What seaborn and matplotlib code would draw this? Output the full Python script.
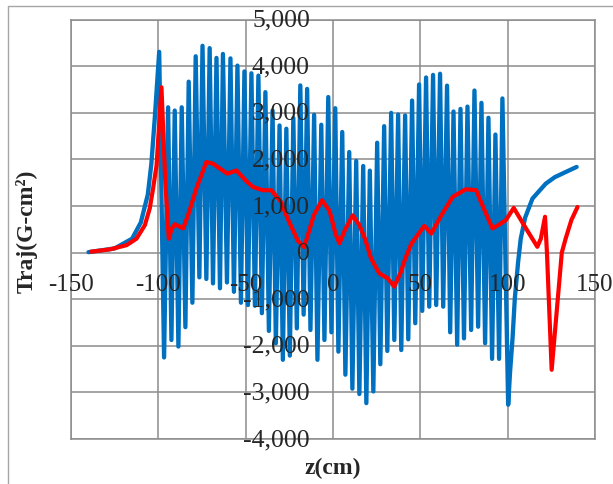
import matplotlib
matplotlib.use("Agg")
import matplotlib.pyplot as plt
import matplotlib.transforms as mtransforms
from matplotlib.patches import Rectangle
import seaborn as sns
import pandas as pd

# blue trace: rise, alternating peaks / troughs, then the tail after z=100
blue_z = [-140, -125, -115, -110, -106, -104, -102,
          -99.5, -96.7, -94.4, -92.5, -90.6, -88.5, -86.6, -84.5, -82.6, -80.5,
          -78.6, -76.5, -74.7, -72.5, -70.6, -68.7, -66.7, -64.7, -63, -60.7,
          -58.7, -56.7, -54.7, -52.7, -50.7, -48.7, -46.7, -44.7, -42.7, -40.7,
          -38.7, -36.7, -34.6, -32.7, -30.6, -28.7, -26.7, -24.7, -22.7, -20.7,
          -18.7, -16.8, -14.8, -12.9, -10.8, -8.9, -6.7, -4.9, -2.7, -0.9,
          1.3, 3.1, 5.3, 7.1, 9.3, 11.1, 13.3, 15.1, 17.3, 19.1,
          21.1, 23.1, 25.3, 27.1, 29.3, 31.1, 33.3, 35.1, 37.3, 39.1,
          41.3, 43.1, 45.3, 47.1, 49.3, 51.1, 53.3, 55.1, 57.3, 59.1,
          61.3, 63.1, 65.3, 67.1, 69, 71.1, 73, 75, 77, 79.1,
          81, 83.1, 85, 87.1, 89, 91.1, 93, 95.1, 97, 100.3,
          101.4, 102.8, 104.1, 106, 107.5, 110, 114.2, 121.8, 127, 133.2, 139.5]
blue_v = [10, 90, 300, 650, 1250, 1900, 2900,
          4310, -2250, 3120, -1875, 3050, -2015, 3120, -1600, 3670, -1075,
          4215, -530, 4440, -565, 4390, -660, 4180, -765, 4265, -640,
          4170, -840, 4015, -1075, 3890, -1125, 3850, -1140, 3800, -1300,
          3445, -1680, 3050, -1945, 2730, -2300, 2660, -2210, 2890, -1625,
          3590, -1330, 3515, -1660, 2960, -2300, 2745, -1875, 3340, -1710,
          3100, -2125, 2590, -2620, 2160, -2920, 1970, -3035, 1860, -3230,
          1760, -2980, 2360, -2395, 2715, -2110, 3000, -1875, 2965, -2090,
          2945, -1860, 3265, -1515, 3610, -1250, 3760, -1160, 3815, -1125,
          3840, -1160, 3585, -1710, 3030, -1975, 3085, -1840, 3135, -1660,
          3480, -1590, 3215, -1945, 2895, -2280, 2535, -2280, 3310, -3265,
          -2550, -1840, -985, -200, 300, 750, 1160, 1480, 1620, 1730, 1840]

# red trace
red_z = [-138.6, -127.7, -118.2, -112.5, -107.7, -104.9, -103, -101, -98.2,
         -96, -94, -92.5, -90.6, -85.8, -83, -78, -72.5, -68.7, -60.5, -55.3,
         -50, -45.8, -40.1, -35.3, -30, -25, -20, -16.5, -15, -11, -6.3, -2,
         1.5, 3.7, 7, 11.3, 15, 18.3, 21.8, 26.5, 31.3, 35.1, 38.9, 41.4, 45,
         52.3, 56.3, 62, 68.5, 76, 82, 84.7, 91.3, 95, 99, 103.5, 110, 117,
         119, 121.4, 122.5, 125.2, 128, 131, 133.2, 136.5, 140]
red_v = [20, 70, 160, 300, 590, 950, 1375, 1875, 3550,
         1500, 300, 500, 610, 520, 800, 1400, 1945, 1910, 1695, 1765,
         1550, 1410, 1340, 1340, 1100, 650, 250, 120, 300, 800, 1125, 900,
         400, 200, 500, 800, 600, 300, -125, -445, -550, -730, -410, -125, 200,
         575, 410, 800, 1195, 1360, 1340, 1090, 520, 600, 700, 960, 550, 125,
         300, 770, 0, -2515, -1300, 0, 300, 700, 980]

x_ticks = [-150, -100, -50, 0, 50, 100, 150]
y_ticks = [-4000, -3000, -2000, -1000, 0, 1000, 2000, 3000, 4000, 5000]
x_labels = ["-150", "-100", "-50", "0", "50", "100", "150"]
y_labels = ["-4,000", "-3,000", "-2,000", "-1,000", "0", "1,000", "2,000",
            "3,000", "4,000", "5,000"]

sns.set_theme(style="white")
plt.rcParams["font.family"] = ["Liberation Serif", "DejaVu Serif"]

fig = plt.figure(figsize=(6.13, 4.85), dpi=100)
ax = fig.add_axes([0.1158, 0.0928, 0.8548, 0.8645])

blue = pd.DataFrame({"z": blue_z, "v": blue_v})
red = pd.DataFrame({"z": red_z, "v": red_v})
sns.lineplot(data=blue, x="z", y="v", ax=ax, color="#0070C0", lw=3.1,
             sort=False, estimator=None, zorder=3,
             solid_joinstyle="round", solid_capstyle="round")
sns.lineplot(data=red, x="z", y="v", ax=ax, color="#FF0000", lw=3.0,
             sort=False, estimator=None, zorder=4,
             solid_joinstyle="round", solid_capstyle="round")

ax.set_xlim(-150, 150)
ax.set_ylim(-4000, 5000)
ax.set_xticks(x_ticks)
ax.set_yticks(y_ticks)
ax.tick_params(length=0, labelbottom=False, labelleft=False)
ax.grid(True, color="#8c8c8c", lw=1.1)
for s in ax.spines.values():
    s.set_color("#8c8c8c")
    s.set_linewidth(1.1)
ax.set_xlabel("")
ax.set_ylabel("")

# Excel-style labels hugging the zero axes
xoff = mtransforms.offset_copy(ax.transData, fig=fig, x=0, y=-31, units="dots")
for t, lab in zip(x_ticks, x_labels):
    ax.text(t, 0, lab, transform=xoff, ha="center", va="center", fontsize=18,
            zorder=5, clip_on=False)
yoff = mtransforms.offset_copy(ax.transData, fig=fig, x=-23, y=0, units="dots")
for t, lab in zip(y_ticks, y_labels):
    ax.text(0, t, lab, transform=yoff, ha="right", va="center", fontsize=18.5,
            zorder=5, clip_on=False)

fig.text(27 / 613, 1 - 231 / 485, "Traj(G-cm\u00b2)", rotation=90, ha="center",
         va="center", fontsize=17, fontweight="bold")
fig.text(333 / 613, 1 - 468 / 485, "z(cm)", ha="center", va="center",
         fontsize=17, fontweight="bold")

# outer chart border
fig.patches.append(Rectangle((8 / 613, -0.05), 1.1, 1 - 7 / 485 + 0.05,
                             transform=fig.transFigure, fill=False,
                             edgecolor="#a6a6a6", lw=1.0))

fig.savefig("out.png", dpi=100)
